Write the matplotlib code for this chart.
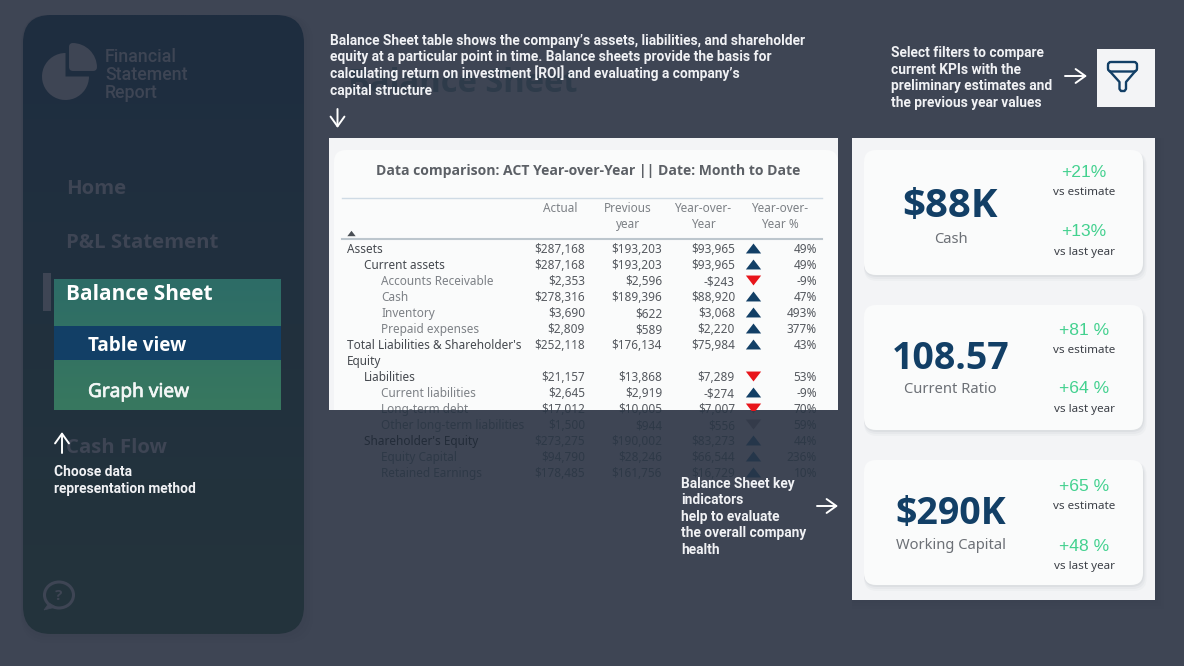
import numpy as np
import matplotlib
matplotlib.use("Agg")
import matplotlib.pyplot as plt
import matplotlib.patheffects as pe
from matplotlib.patches import FancyBboxPatch, Rectangle, Wedge, Ellipse, Polygon
from matplotlib.transforms import Bbox, TransformedBbox
from matplotlib.colors import to_rgb

# ---------- data ----------
row_labels = ["Assets", "Current assets", "Accounts Receivable", "Cash", "Inventory",
              "Prepaid expenses", "Total Liabilities & Shareholder's\nEquity", "Liabilities",
              "Current liabilities", "Long-term debt", "Other long-term liabilities",
              "Shareholder's Equity", "Equity Capital", "Retained Earnings"]
row_levels = [0, 1, 2, 2, 2, 2, 0, 1, 2, 2, 2, 1, 2, 2]
actual = ["$287,168", "$287,168", "$2,353", "$278,316", "$3,690", "$2,809", "$252,118",
          "$21,157", "$2,645", "$17,012", "$1,500", "$273,275", "$94,790", "$178,485"]
previous = ["$193,203", "$193,203", "$2,596", "$189,396", "$622", "$589", "$176,134",
            "$13,868", "$2,919", "$10,005", "$944", "$190,002", "$28,246", "$161,756"]
yoy = ["$93,965", "$93,965", "-$243", "$88,920", "$3,068", "$2,220", "$75,984",
       "$7,289", "-$274", "$7,007", "$556", "$83,273", "$66,544", "$16,729"]
yoy_pct = ["49%", "49%", "-9%", "47%", "493%", "377%", "43%",
           "53%", "-9%", "70%", "59%", "44%", "236%", "10%"]
trend_up = [True, True, False, True, True, True, True,
            False, True, False, False, True, True, True]
headers = ["Actual", "Previous\nyear", "Year-over-\nYear", "Year-over-\nYear %"]
nav_items = ["Home", "P&L Statement", "Cash Flow"]
kpi_values = ["$88K", "108.57", "$290K"]
kpi_names = ["Cash", "Current Ratio", "Working Capital"]
kpi_vs_estimate = ["+21%", "+81 %", "+65 %"]
kpi_vs_last_year = ["+13%", "+64 %", "+48 %"]

# ---------- style ----------
BG = "#3e4554"
NAVY = "#123f66"
SANS = "Noto Sans"
BOLD = "Open Sans"
ANNOT = "Roboto"
GREEN_TXT = "#43d18f"
TRI_UP = [(-1, -0.65), (1, -0.65), (0, 0.65)]
TRI_DOWN = [(-1, 0.65), (1, 0.65), (0, -0.65)]
KPI_FS = [29, 27, 27]

fig = plt.figure(figsize=(11.84, 6.66), dpi=100, facecolor=BG)
ax = fig.add_axes([0, 0, 1, 1])
ax.set_axis_off()


def rbox(x0, y0, x1, y1, r, **kw):
    p = FancyBboxPatch((x0 + r, y0 + r), x1 - x0 - 2 * r, y1 - y0 - 2 * r,
                       boxstyle=f"round,pad={r},rounding_size={r}", linewidth=kw.pop("lw", 0), **kw)
    ax.add_patch(p)
    return p


def vgrad(x0, y0, x1, y1, c_top, c_bot, clip=None, z=1):
    a, b = np.array(to_rgb(c_top)), np.array(to_rgb(c_bot))
    t = np.linspace(0, 1, 256)[:, None, None]
    img = a[None, None, :] * (1 - t) + b[None, None, :] * t
    im = ax.imshow(img, extent=(x0, x1, y1, y0), aspect="auto", zorder=z, interpolation="bilinear")
    if clip is not None:
        im.set_clip_path(clip)
    return im


def arrow(x0, y0, x1, y1):
    ax.annotate("", xy=(x1, y1), xytext=(x0, y0), zorder=20,
                arrowprops=dict(arrowstyle="->,head_length=0.7,head_width=0.5", color="white",
                                lw=1.4, shrinkA=0, shrinkB=0))


def note(x, y, s):
    ax.text(x, y, s, color="#f0f1f4", fontsize=9.95, family=ANNOT, weight="bold", zorder=20)


# ---------- soft shadows ----------
for g, al in [(9, .03), (6, .04), (3, .05)]:
    rbox(23 - g * .2, 15, 304 + g, 634 + g, 28, fc="#2a3140", alpha=al, zorder=0.5)
    rbox(852, 138, 1155 + g, 600 + g, 2, fc="#2a3140", alpha=al, zorder=0.5)

# ---------- sidebar ----------
side = rbox(23, 15, 304, 634, 28, fc="none", zorder=1)
vgrad(23, 15, 304, 634, "#1e2d40", "#24343c", clip=side, z=1)

# logo
ax.add_patch(Wedge((65.5, 76.5), 23.5, 0, 270, fc=BG, ec=BG, lw=0, zorder=3))
ax.add_patch(Wedge((72.5, 67.5), 21, 270, 360, fc=BG, ec=BG, lw=5, joinstyle="round", zorder=3))
for lab, y in zip(["Financial", "Statement", "Report"], [62, 80, 98]):
    ax.text(105, y, lab, color=BG, fontsize=12.8, family=ANNOT, weight="medium", zorder=3)

# navigation
for label, y in zip(nav_items, [194, 248, 453]):
    ax.text(66, y, label, color=BG, fontsize=14.7, family=BOLD, weight="bold", zorder=3)
ax.add_patch(Rectangle((43, 273), 8, 38, fc=BG, lw=0, zorder=3))
vgrad(54, 279, 281, 410, "#2d6c67", "#38785f", z=3)
ax.add_patch(Rectangle((54, 326), 227, 34, fc=NAVY, lw=0, zorder=4))
ax.text(66, 300, "Balance Sheet", color="white", fontsize=15, family=BOLD, weight="bold", zorder=5)
ax.text(88, 351, "Table view", color="white", fontsize=13.6, family=BOLD, weight="bold", zorder=5)
ax.text(88, 397, "Graph view", color="#f2f6f5", fontsize=13.7, family=SANS, zorder=5,
        path_effects=[pe.withStroke(linewidth=0.5, foreground="#f2f6f5")])

# help icon
ax.add_patch(Ellipse((59, 595), 29, 26, fc="none", ec=BG, lw=2.2, zorder=3))
ax.add_patch(Polygon([(49, 603), (44, 610), (56, 607)], closed=True, fc=BG, ec=BG, lw=.5, zorder=3))
ax.text(59, 600.5, "?", color=BG, fontsize=11, family=BOLD, weight="bold", ha="center", zorder=3)

# side annotation
arrow(62, 453, 62, 432)
note(54, 476, "Choose data")
note(54, 493, "representation method")

# ghost title behind the top note
ax.text(348, 92, "Balance Sheet", color="#2e3b4a", fontsize=23.5, family=BOLD, weight="bold", zorder=1)

# ---------- table ----------
ROW0, STEP = 253, 16
COL_ACT, COL_PREV, COL_YOY, COL_TRI, COL_PCT = 585, 662, 735, 752.5, 817
INDENT = [347, 364, 381]
TABLE_FS = 8.5

row_ys, cur = [], ROW0
for lab in row_labels:
    row_ys.append(cur)
    cur += STEP * (lab.count("\n") + 1)

panel = Rectangle((329, 138), 509, 272, fc="#f3f4f6", lw=0, zorder=6)
ax.add_patch(panel)
rbox(334, 150, 838, 440, 12, fc="#fafbfb", zorder=6.1).set_clip_path(panel)

clip_box = TransformedBbox(Bbox([[329, 138], [838, 410]]), ax.transData)


def rowtext(x, y, s, c_dark, c_light, ha="right"):
    ax.text(x, y, s, color=c_dark, fontsize=TABLE_FS, family=SANS, ha=ha, zorder=2)
    t = ax.text(x, y, s, color=c_light, fontsize=TABLE_FS, family=SANS, ha=ha, zorder=7)
    t.set_clip_on(True)
    t.set_clip_box(clip_box)


for i, y in enumerate(row_ys):
    lvl = row_levels[i]
    light = ["#45494f", "#45494f", "#7d8186"][lvl]
    dark = ["#232c39", "#232c39", "#2e3947"][lvl]
    for k, ln in enumerate(row_labels[i].split("\n")):
        rowtext(INDENT[lvl], y + k * STEP, ln, dark, light, ha="left")
    for x, vals in ((COL_ACT, actual), (COL_PREV, previous), (COL_YOY, yoy), (COL_PCT, yoy_pct)):
        rowtext(x, y, vals[i], "#2e3947", "#55595f")
    up = trend_up[i]
    mk = TRI_UP if up else TRI_DOWN
    dark_m = "#25364a" if up else "#343b4a"
    ax.plot([COL_TRI], [y - 5], marker=mk, ms=11, mew=0, color=dark_m, zorder=2)
    m, = ax.plot([COL_TRI], [y - 5], marker=mk, ms=11, mew=0,
                 color=NAVY if up else "#e8151b", zorder=7)
    m.set_clip_on(True)
    m.set_clip_box(clip_box)

ax.text(588, 175, "Data comparison: ACT Year-over-Year || Date: Month to Date", color="#5c6066",
        fontsize=10.1, family=BOLD, weight="bold", ha="center", zorder=7)
ax.plot([342, 822], [198, 198], color="#cfdbe5", lw=1, zorder=7)
ax.plot([342, 822], [239, 239], color="#bcc6cd", lw=1.5, zorder=7)
ax.plot([351], [233], marker=TRI_UP, ms=6, mew=0, color="#4a4f55", zorder=7)
for h, x in zip(headers, [560, 628, 703, 780]):
    for k, ln in enumerate(h.split("\n")):
        ax.text(x, 212 + k * STEP, ln, color="#7d8186", fontsize=TABLE_FS, family=SANS, ha="center", zorder=7)

# ---------- top note ----------
note_top = ["Balance Sheet table shows the company\u2019s assets, liabilities, and shareholder",
            "equity at a particular point in time. Balance sheets provide the basis for",
            "calculating return on investment [ROI] and evaluating a company\u2019s",
            "capital structure"]
for k, s in enumerate(note_top):
    note(330, 45 + k * 16.5, s)
arrow(337.5, 109, 337.5, 128)

# ---------- filter note ----------
note_filter = ["Select filters to compare", "current KPIs with the",
               "preliminary estimates and", "the previous year values"]
for k, s in enumerate(note_filter):
    note(891, 57 + k * 16.5, s)
arrow(1065, 76, 1087, 76)
ax.add_patch(Rectangle((1097, 49), 58, 58, fc="#f3f4f6", lw=0, zorder=6))
rbox(1108, 62, 1137, 71.5, 3, fc="none", ec=NAVY, lw=1.7, zorder=7)
ax.plot([1110, 1119.5, 1119.5, 1121, 1124.5, 1126, 1126, 1135],
        [71.5, 82, 89, 91, 91, 89, 82, 71.5], color=NAVY, lw=1.7, zorder=7, solid_joinstyle="round")

# ---------- KPI note ----------
note_kpi = ["Balance Sheet key", "indicators", "help to evaluate", "the overall company", "health"]
for k, s in enumerate(note_kpi):
    note(681, 488 + k * 16.5, s)
arrow(817, 506, 838, 506)

# ---------- KPI cards ----------
ax.add_patch(Rectangle((852, 138), 303, 462, fc="#f3f4f6", lw=0, zorder=6))
card_tops = [150, 305, 460]
val_base = [217, 369, 524]
name_base = [243, 393, 549]
est_base = [177, 335, 491]
est_lab = [195, 353, 509]
ly_base = [236, 393, 551]
ly_lab = [255, 412, 569]
for i, top in enumerate(card_tops):
    for g, al in [(6, .05), (4, .07), (2, .10)]:
        rbox(864, top + 2, 1143 + g * .6, top + 125 + g, 13, fc="#8a929c", alpha=al, zorder=6.1)
    rbox(864, top, 1143, top + 125, 12, fc="#fafbfb", zorder=6.2)
    ax.text(950.5, val_base[i], kpi_values[i], color=NAVY, fontsize=KPI_FS[i], family=BOLD, weight="bold",
            ha="center", zorder=7)
    ax.text(950.5, name_base[i], kpi_names[i], color="#6c7076", fontsize=10.6, family=SANS,
            ha="center", zorder=7)
    ax.text(1084, est_base[i], kpi_vs_estimate[i], color=GREEN_TXT, fontsize=12.6,
            family="Liberation Sans", ha="center", zorder=7)
    ax.text(1084, est_lab[i], "vs estimate", color="#3c4047", fontsize=8.4, family=SANS, ha="center", zorder=7)
    ax.text(1084, ly_base[i], kpi_vs_last_year[i], color=GREEN_TXT, fontsize=12.6,
            family="Liberation Sans", ha="center", zorder=7)
    ax.text(1084, ly_lab[i], "vs last year", color="#3c4047", fontsize=8.4, family=SANS, ha="center", zorder=7)

ax.set_xlim(0, 1184)
ax.set_ylim(666, 0)
fig.savefig("out.png", dpi=100, facecolor=BG)
